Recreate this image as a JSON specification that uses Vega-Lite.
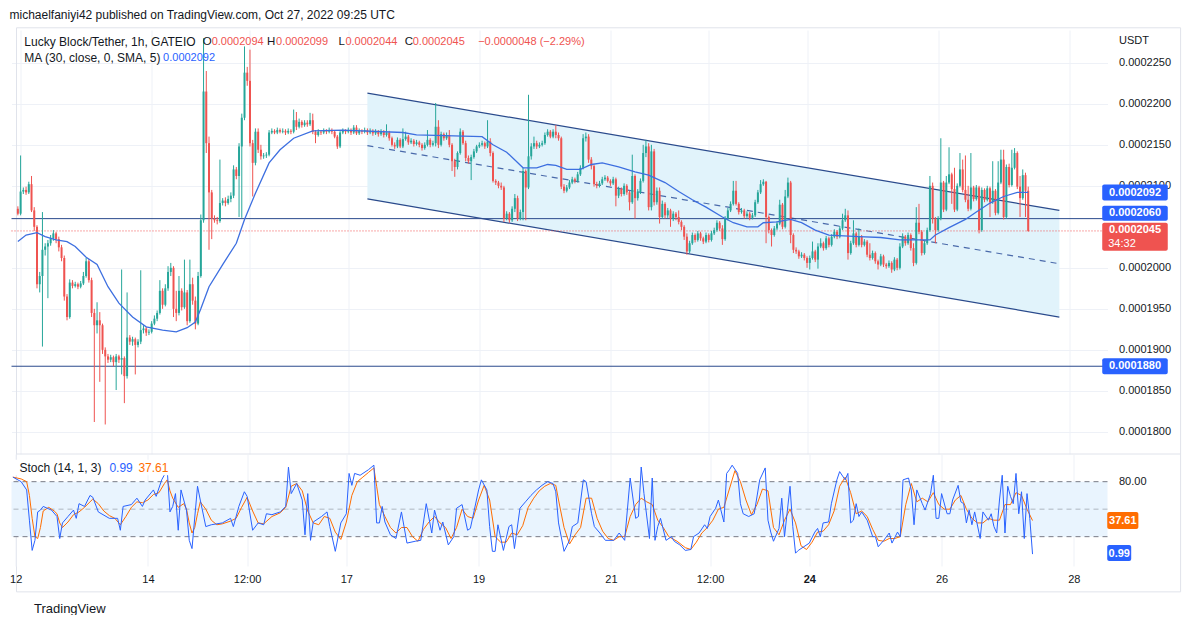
{
"$schema":"https://vega.github.io/schema/vega-lite/v6.json",
"autosize":{"type":"pad"},
"padding":{"left":9.5,"top":9,"right":0,"bottom":0},
"background":"white",
"config":{"font":"Liberation Sans","view":{"stroke":null},
"axis":{"domain":false,"ticks":false,"labelFont":"Liberation Sans","labelFontSize":11,"labelColor":"#131722","gridColor":"#eef1f7","titleFont":"Liberation Sans"},
"text":{"font":"Liberation Sans"}},
"title":{"text":"michaelfaniyi42 published on TradingView.com, Oct 27, 2022 09:25 UTC","anchor":"start","fontSize":12,"fontWeight":"normal","color":"#131722","font":"Liberation Sans","offset":5},
"datasets":{
"candles":[
{"t":-1,"o":2072,"c":2066,"hi":2075,"lo":2064},{"t":0,"o":2066,"c":2093,"hi":2137,"lo":2064},{"t":1,"o":2093,"c":2095,"hi":2098,"lo":2090},{"t":2,"o":2095,"c":2092,"hi":2099,"lo":2089},{"t":3,"o":2092,"c":2102,"hi":2105,"lo":2090},{"t":4,"o":2102,"c":2070,"hi":2112,"lo":2068},{"t":5,"o":2070,"c":2050,"hi":2074,"lo":2045},{"t":6,"o":2050,"c":1980,"hi":2052,"lo":1975},{"t":7,"o":1980,"c":1990,"hi":1995,"lo":1970},{"t":8,"o":1990,"c":2022,"hi":2068,"lo":1904},{"t":9,"o":2022,"c":2026,"hi":2030,"lo":2015},
{"t":10,"o":2026,"c":2030,"hi":2034,"lo":1963},{"t":11,"o":2030,"c":2036,"hi":2040,"lo":2027},{"t":12,"o":2036,"c":2042,"hi":2046,"lo":2033},{"t":13,"o":2042,"c":2035,"hi":2044,"lo":2030},{"t":14,"o":2035,"c":2025,"hi":2038,"lo":2020},{"t":15,"o":2025,"c":2012,"hi":2028,"lo":2008},{"t":16,"o":2012,"c":1965,"hi":2015,"lo":1960},{"t":17,"o":1965,"c":1940,"hi":1968,"lo":1936},{"t":18,"o":1940,"c":1982,"hi":1986,"lo":1938},{"t":19,"o":1982,"c":1978,"hi":1985,"lo":1975},
{"t":20,"o":1978,"c":1980,"hi":1983,"lo":1976},{"t":21,"o":1980,"c":1977,"hi":1982,"lo":1974},{"t":22,"o":1977,"c":1981,"hi":1984,"lo":1975},{"t":23,"o":1981,"c":1990,"hi":1995,"lo":1979},{"t":24,"o":1990,"c":2008,"hi":2012,"lo":1988},{"t":25,"o":2008,"c":1985,"hi":2011,"lo":1982},{"t":26,"o":1985,"c":1945,"hi":1988,"lo":1940},{"t":27,"o":1945,"c":1930,"hi":1950,"lo":1812},{"t":28,"o":1930,"c":1936,"hi":1958,"lo":1920},{"t":29,"o":1936,"c":1930,"hi":1946,"lo":1861},
{"t":30,"o":1930,"c":1900,"hi":1932,"lo":1895},{"t":31,"o":1900,"c":1892,"hi":1903,"lo":1809},{"t":32,"o":1892,"c":1888,"hi":1895,"lo":1884},{"t":33,"o":1888,"c":1891,"hi":1894,"lo":1885},{"t":34,"o":1891,"c":1885,"hi":1893,"lo":1880},{"t":35,"o":1885,"c":1892,"hi":1895,"lo":1851},{"t":36,"o":1892,"c":1888,"hi":1894,"lo":1884},{"t":37,"o":1888,"c":1890,"hi":1998,"lo":1870},{"t":38,"o":1890,"c":1868,"hi":1892,"lo":1835},{"t":39,"o":1868,"c":1915,"hi":1970,"lo":1865},
{"t":40,"o":1915,"c":1910,"hi":1918,"lo":1906},{"t":41,"o":1910,"c":1913,"hi":1916,"lo":1905},{"t":42,"o":1913,"c":1906,"hi":1915,"lo":1870},{"t":43,"o":1906,"c":1910,"hi":1913,"lo":1903},{"t":44,"o":1910,"c":1924,"hi":1997,"lo":1907},{"t":45,"o":1924,"c":1926,"hi":1930,"lo":1920},{"t":46,"o":1926,"c":1921,"hi":1928,"lo":1917},{"t":47,"o":1921,"c":1922,"hi":1925,"lo":1918},{"t":48,"o":1922,"c":1932,"hi":1935,"lo":1920},{"t":49,"o":1932,"c":1938,"hi":1942,"lo":1930},
{"t":50,"o":1938,"c":1945,"hi":1948,"lo":1935},{"t":51,"o":1945,"c":1972,"hi":1985,"lo":1943},{"t":52,"o":1972,"c":1955,"hi":1975,"lo":1950},{"t":53,"o":1955,"c":1975,"hi":1980,"lo":1953},{"t":54,"o":1975,"c":1995,"hi":2002,"lo":1972},{"t":55,"o":1995,"c":2000,"hi":2006,"lo":1990},{"t":56,"o":2000,"c":1950,"hi":2002,"lo":1940},{"t":57,"o":1950,"c":1945,"hi":1972,"lo":1935},{"t":58,"o":1945,"c":1972,"hi":1990,"lo":1942},{"t":59,"o":1972,"c":1952,"hi":1975,"lo":1948},
{"t":60,"o":1952,"c":1970,"hi":2010,"lo":1950},{"t":61,"o":1970,"c":1935,"hi":1973,"lo":1930},{"t":62,"o":1935,"c":1980,"hi":2010,"lo":1933},{"t":63,"o":1980,"c":1960,"hi":1988,"lo":1955},{"t":64,"o":1960,"c":1932,"hi":1965,"lo":1925},{"t":65,"o":1932,"c":1990,"hi":1995,"lo":1930},{"t":66,"o":1990,"c":2058,"hi":2065,"lo":1988},{"t":67,"o":2058,"c":2215,"hi":2280,"lo":2055},{"t":68,"o":2215,"c":2152,"hi":2240,"lo":2140},{"t":69,"o":2152,"c":2092,"hi":2160,"lo":2022},
{"t":70,"o":2092,"c":2060,"hi":2095,"lo":2035},{"t":71,"o":2060,"c":2058,"hi":2064,"lo":2055},{"t":72,"o":2058,"c":2057,"hi":2062,"lo":2053},{"t":73,"o":2057,"c":2079,"hi":2132,"lo":2055},{"t":74,"o":2079,"c":2082,"hi":2085,"lo":2076},{"t":75,"o":2082,"c":2079,"hi":2086,"lo":2075},{"t":76,"o":2079,"c":2084,"hi":2088,"lo":2077},{"t":77,"o":2084,"c":2088,"hi":2092,"lo":2080},{"t":78,"o":2088,"c":2120,"hi":2125,"lo":2085},{"t":79,"o":2120,"c":2112,"hi":2123,"lo":2108},
{"t":80,"o":2112,"c":2148,"hi":2152,"lo":2062},{"t":81,"o":2148,"c":2183,"hi":2188,"lo":2061},{"t":82,"o":2183,"c":2238,"hi":2270,"lo":2180},{"t":83,"o":2238,"c":2228,"hi":2245,"lo":2222},{"t":84,"o":2228,"c":2152,"hi":2266,"lo":2148},{"t":85,"o":2152,"c":2128,"hi":2156,"lo":2087},{"t":86,"o":2128,"c":2166,"hi":2170,"lo":2125},{"t":87,"o":2166,"c":2144,"hi":2170,"lo":2140},{"t":88,"o":2144,"c":2136,"hi":2150,"lo":2132},{"t":89,"o":2136,"c":2137,"hi":2140,"lo":2133},
{"t":90,"o":2137,"c":2138,"hi":2141,"lo":2134},{"t":91,"o":2138,"c":2165,"hi":2168,"lo":2136},{"t":92,"o":2165,"c":2167,"hi":2170,"lo":2163},{"t":93,"o":2167,"c":2165,"hi":2169,"lo":2163},{"t":94,"o":2165,"c":2168,"hi":2171,"lo":2163},{"t":95,"o":2168,"c":2166,"hi":2170,"lo":2164},{"t":96,"o":2166,"c":2167,"hi":2170,"lo":2164},{"t":97,"o":2167,"c":2165,"hi":2169,"lo":2162},{"t":98,"o":2165,"c":2167,"hi":2170,"lo":2163},{"t":99,"o":2167,"c":2166,"hi":2169,"lo":2163},
{"t":100,"o":2166,"c":2180,"hi":2193,"lo":2164},{"t":101,"o":2180,"c":2172,"hi":2190,"lo":2168},{"t":102,"o":2172,"c":2178,"hi":2182,"lo":2170},{"t":103,"o":2178,"c":2174,"hi":2180,"lo":2171},{"t":104,"o":2174,"c":2177,"hi":2180,"lo":2172},{"t":105,"o":2177,"c":2175,"hi":2180,"lo":2172},{"t":106,"o":2175,"c":2180,"hi":2189,"lo":2173},{"t":107,"o":2180,"c":2166,"hi":2188,"lo":2163},{"t":108,"o":2166,"c":2162,"hi":2168,"lo":2152},{"t":109,"o":2162,"c":2166,"hi":2169,"lo":2160},
{"t":110,"o":2166,"c":2165,"hi":2168,"lo":2162},{"t":111,"o":2165,"c":2167,"hi":2170,"lo":2163},{"t":112,"o":2167,"c":2166,"hi":2169,"lo":2163},{"t":113,"o":2166,"c":2168,"hi":2171,"lo":2164},{"t":114,"o":2168,"c":2166,"hi":2170,"lo":2163},{"t":115,"o":2166,"c":2160,"hi":2168,"lo":2158},{"t":116,"o":2160,"c":2148,"hi":2162,"lo":2145},{"t":117,"o":2148,"c":2165,"hi":2168,"lo":2146},{"t":118,"o":2165,"c":2167,"hi":2170,"lo":2163},{"t":119,"o":2167,"c":2166,"hi":2169,"lo":2163},
{"t":120,"o":2166,"c":2168,"hi":2171,"lo":2164},{"t":121,"o":2168,"c":2165,"hi":2170,"lo":2162},{"t":122,"o":2165,"c":2171,"hi":2174,"lo":2163},{"t":123,"o":2171,"c":2164,"hi":2174,"lo":2162},{"t":124,"o":2164,"c":2167,"hi":2170,"lo":2162},{"t":125,"o":2167,"c":2166,"hi":2169,"lo":2163},{"t":126,"o":2166,"c":2168,"hi":2171,"lo":2164},{"t":127,"o":2168,"c":2165,"hi":2170,"lo":2162},{"t":128,"o":2165,"c":2167,"hi":2170,"lo":2163},{"t":129,"o":2167,"c":2164,"hi":2169,"lo":2161},
{"t":130,"o":2164,"c":2166,"hi":2169,"lo":2162},{"t":131,"o":2166,"c":2163,"hi":2168,"lo":2160},{"t":132,"o":2163,"c":2166,"hi":2169,"lo":2161},{"t":133,"o":2166,"c":2162,"hi":2168,"lo":2159},{"t":134,"o":2162,"c":2165,"hi":2175,"lo":2160},{"t":135,"o":2165,"c":2158,"hi":2167,"lo":2155},{"t":136,"o":2158,"c":2150,"hi":2160,"lo":2148},{"t":137,"o":2150,"c":2148,"hi":2153,"lo":2145},{"t":138,"o":2148,"c":2156,"hi":2159,"lo":2146},{"t":139,"o":2156,"c":2148,"hi":2158,"lo":2146},
{"t":140,"o":2148,"c":2157,"hi":2170,"lo":2146},{"t":141,"o":2157,"c":2160,"hi":2166,"lo":2155},{"t":142,"o":2160,"c":2153,"hi":2162,"lo":2150},{"t":143,"o":2153,"c":2155,"hi":2158,"lo":2151},{"t":144,"o":2155,"c":2151,"hi":2157,"lo":2148},{"t":145,"o":2151,"c":2153,"hi":2156,"lo":2149},{"t":146,"o":2153,"c":2150,"hi":2155,"lo":2147},{"t":147,"o":2150,"c":2146,"hi":2152,"lo":2143},{"t":148,"o":2146,"c":2150,"hi":2153,"lo":2144},{"t":149,"o":2150,"c":2156,"hi":2168,"lo":2148},
{"t":150,"o":2156,"c":2150,"hi":2158,"lo":2147},{"t":151,"o":2150,"c":2152,"hi":2155,"lo":2148},{"t":152,"o":2152,"c":2172,"hi":2201,"lo":2148},{"t":153,"o":2172,"c":2150,"hi":2180,"lo":2146},{"t":154,"o":2150,"c":2163,"hi":2166,"lo":2148},{"t":155,"o":2163,"c":2158,"hi":2165,"lo":2155},{"t":156,"o":2158,"c":2162,"hi":2165,"lo":2156},{"t":157,"o":2162,"c":2150,"hi":2168,"lo":2147},{"t":158,"o":2150,"c":2130,"hi":2152,"lo":2118},{"t":159,"o":2130,"c":2123,"hi":2133,"lo":2111},
{"t":160,"o":2123,"c":2140,"hi":2142,"lo":2120},{"t":161,"o":2140,"c":2166,"hi":2170,"lo":2138},{"t":162,"o":2166,"c":2152,"hi":2168,"lo":2150},{"t":163,"o":2152,"c":2134,"hi":2155,"lo":2130},{"t":164,"o":2134,"c":2130,"hi":2137,"lo":2127},{"t":165,"o":2130,"c":2135,"hi":2138,"lo":2107},{"t":166,"o":2135,"c":2142,"hi":2145,"lo":2133},{"t":167,"o":2142,"c":2148,"hi":2150,"lo":2140},{"t":168,"o":2148,"c":2150,"hi":2153,"lo":2146},{"t":169,"o":2150,"c":2152,"hi":2155,"lo":2148},
{"t":170,"o":2152,"c":2148,"hi":2154,"lo":2145},{"t":171,"o":2148,"c":2154,"hi":2180,"lo":2146},{"t":172,"o":2154,"c":2140,"hi":2158,"lo":2136},{"t":173,"o":2140,"c":2106,"hi":2142,"lo":2104},{"t":174,"o":2106,"c":2104,"hi":2108,"lo":2101},{"t":175,"o":2104,"c":2100,"hi":2106,"lo":2097},{"t":176,"o":2100,"c":2098,"hi":2104,"lo":2095},{"t":177,"o":2098,"c":2060,"hi":2100,"lo":2056},{"t":178,"o":2060,"c":2066,"hi":2069,"lo":2058},{"t":179,"o":2066,"c":2058,"hi":2068,"lo":2055},
{"t":180,"o":2058,"c":2072,"hi":2075,"lo":2056},{"t":181,"o":2072,"c":2085,"hi":2090,"lo":2068},{"t":182,"o":2085,"c":2060,"hi":2088,"lo":2057},{"t":183,"o":2060,"c":2068,"hi":2071,"lo":2058},{"t":184,"o":2068,"c":2118,"hi":2122,"lo":2058},{"t":185,"o":2118,"c":2098,"hi":2120,"lo":2058},{"t":186,"o":2098,"c":2136,"hi":2211,"lo":2096},{"t":187,"o":2136,"c":2148,"hi":2152,"lo":2132},{"t":188,"o":2148,"c":2152,"hi":2160,"lo":2145},{"t":189,"o":2152,"c":2148,"hi":2155,"lo":2145},
{"t":190,"o":2148,"c":2150,"hi":2153,"lo":2146},{"t":191,"o":2150,"c":2152,"hi":2155,"lo":2148},{"t":192,"o":2152,"c":2162,"hi":2165,"lo":2150},{"t":193,"o":2162,"c":2166,"hi":2169,"lo":2160},{"t":194,"o":2166,"c":2160,"hi":2168,"lo":2158},{"t":195,"o":2160,"c":2166,"hi":2169,"lo":2158},{"t":196,"o":2166,"c":2162,"hi":2174,"lo":2158},{"t":197,"o":2162,"c":2158,"hi":2165,"lo":2155},{"t":198,"o":2158,"c":2099,"hi":2160,"lo":2096},{"t":199,"o":2099,"c":2094,"hi":2102,"lo":2091},
{"t":200,"o":2094,"c":2098,"hi":2101,"lo":2092},{"t":201,"o":2098,"c":2104,"hi":2107,"lo":2096},{"t":202,"o":2104,"c":2108,"hi":2111,"lo":2102},{"t":203,"o":2108,"c":2106,"hi":2110,"lo":2103},{"t":204,"o":2106,"c":2114,"hi":2117,"lo":2104},{"t":205,"o":2114,"c":2122,"hi":2125,"lo":2112},{"t":206,"o":2122,"c":2158,"hi":2163,"lo":2120},{"t":207,"o":2158,"c":2160,"hi":2165,"lo":2154},{"t":208,"o":2160,"c":2132,"hi":2163,"lo":2128},{"t":209,"o":2132,"c":2124,"hi":2135,"lo":2120},
{"t":210,"o":2124,"c":2102,"hi":2126,"lo":2099},{"t":211,"o":2102,"c":2100,"hi":2105,"lo":2097},{"t":212,"o":2100,"c":2103,"hi":2106,"lo":2098},{"t":213,"o":2103,"c":2108,"hi":2111,"lo":2101},{"t":214,"o":2108,"c":2110,"hi":2113,"lo":2106},{"t":215,"o":2110,"c":2106,"hi":2112,"lo":2104},{"t":216,"o":2106,"c":2103,"hi":2108,"lo":2100},{"t":217,"o":2103,"c":2108,"hi":2111,"lo":2101},{"t":218,"o":2108,"c":2088,"hi":2110,"lo":2075},{"t":219,"o":2088,"c":2096,"hi":2099,"lo":2085},
{"t":220,"o":2096,"c":2090,"hi":2098,"lo":2087},{"t":221,"o":2090,"c":2100,"hi":2103,"lo":2088},{"t":222,"o":2100,"c":2092,"hi":2102,"lo":2089},{"t":223,"o":2092,"c":2080,"hi":2094,"lo":2070},{"t":224,"o":2080,"c":2112,"hi":2138,"lo":2078},{"t":225,"o":2112,"c":2085,"hi":2114,"lo":2060},{"t":226,"o":2085,"c":2093,"hi":2096,"lo":2082},{"t":227,"o":2093,"c":2106,"hi":2109,"lo":2090},{"t":228,"o":2106,"c":2140,"hi":2150,"lo":2104},{"t":229,"o":2140,"c":2148,"hi":2156,"lo":2135},
{"t":230,"o":2148,"c":2074,"hi":2152,"lo":2070},{"t":231,"o":2074,"c":2142,"hi":2150,"lo":2070},{"t":232,"o":2142,"c":2080,"hi":2145,"lo":2076},{"t":233,"o":2080,"c":2094,"hi":2098,"lo":2077},{"t":234,"o":2094,"c":2062,"hi":2098,"lo":2054},{"t":235,"o":2062,"c":2078,"hi":2082,"lo":2060},{"t":236,"o":2078,"c":2064,"hi":2080,"lo":2060},{"t":237,"o":2064,"c":2070,"hi":2073,"lo":2061},{"t":238,"o":2070,"c":2060,"hi":2072,"lo":2050},{"t":239,"o":2060,"c":2066,"hi":2069,"lo":2057},
{"t":240,"o":2066,"c":2062,"hi":2068,"lo":2058},{"t":241,"o":2062,"c":2056,"hi":2070,"lo":2053},{"t":242,"o":2056,"c":2050,"hi":2058,"lo":2046},{"t":243,"o":2050,"c":2038,"hi":2052,"lo":2034},{"t":244,"o":2038,"c":2020,"hi":2042,"lo":2016},{"t":245,"o":2020,"c":2030,"hi":2033,"lo":2018},{"t":246,"o":2030,"c":2040,"hi":2043,"lo":2028},{"t":247,"o":2040,"c":2034,"hi":2042,"lo":2031},{"t":248,"o":2034,"c":2042,"hi":2045,"lo":2032},{"t":249,"o":2042,"c":2036,"hi":2044,"lo":2033},
{"t":250,"o":2036,"c":2032,"hi":2038,"lo":2029},{"t":251,"o":2032,"c":2040,"hi":2043,"lo":2030},{"t":252,"o":2040,"c":2034,"hi":2042,"lo":2031},{"t":253,"o":2034,"c":2042,"hi":2045,"lo":2032},{"t":254,"o":2042,"c":2046,"hi":2049,"lo":2040},{"t":255,"o":2046,"c":2055,"hi":2058,"lo":2044},{"t":256,"o":2055,"c":2048,"hi":2057,"lo":2045},{"t":257,"o":2048,"c":2035,"hi":2052,"lo":2028},{"t":258,"o":2035,"c":2060,"hi":2063,"lo":2033},{"t":259,"o":2060,"c":2070,"hi":2073,"lo":2058},
{"t":260,"o":2070,"c":2078,"hi":2081,"lo":2068},{"t":261,"o":2078,"c":2094,"hi":2106,"lo":2076},{"t":262,"o":2094,"c":2078,"hi":2106,"lo":2076},{"t":263,"o":2078,"c":2068,"hi":2080,"lo":2065},{"t":264,"o":2068,"c":2070,"hi":2073,"lo":2066},{"t":265,"o":2070,"c":2063,"hi":2072,"lo":2060},{"t":266,"o":2063,"c":2066,"hi":2069,"lo":2061},{"t":267,"o":2066,"c":2061,"hi":2068,"lo":2058},{"t":268,"o":2061,"c":2064,"hi":2067,"lo":2059},{"t":269,"o":2064,"c":2080,"hi":2083,"lo":2062},
{"t":270,"o":2080,"c":2092,"hi":2095,"lo":2078},{"t":271,"o":2092,"c":2102,"hi":2107,"lo":2090},{"t":272,"o":2102,"c":2105,"hi":2108,"lo":2100},{"t":273,"o":2105,"c":2062,"hi":2106,"lo":2030},{"t":274,"o":2062,"c":2046,"hi":2064,"lo":2042},{"t":275,"o":2046,"c":2040,"hi":2048,"lo":2026},{"t":276,"o":2040,"c":2048,"hi":2051,"lo":2038},{"t":277,"o":2048,"c":2054,"hi":2057,"lo":2046},{"t":278,"o":2054,"c":2077,"hi":2083,"lo":2052},{"t":279,"o":2077,"c":2050,"hi":2079,"lo":2047},
{"t":280,"o":2050,"c":2087,"hi":2095,"lo":2048},{"t":281,"o":2087,"c":2104,"hi":2110,"lo":2085},{"t":282,"o":2104,"c":2040,"hi":2106,"lo":2030},{"t":283,"o":2040,"c":2022,"hi":2042,"lo":2018},{"t":284,"o":2022,"c":2020,"hi":2025,"lo":2017},{"t":285,"o":2020,"c":2014,"hi":2022,"lo":2011},{"t":286,"o":2014,"c":2016,"hi":2019,"lo":2012},{"t":287,"o":2016,"c":2012,"hi":2018,"lo":2009},{"t":288,"o":2012,"c":2006,"hi":2014,"lo":2000},{"t":289,"o":2006,"c":2012,"hi":2015,"lo":1998},
{"t":290,"o":2012,"c":2020,"hi":2032,"lo":2010},{"t":291,"o":2020,"c":2010,"hi":2022,"lo":2007},{"t":292,"o":2010,"c":2026,"hi":2030,"lo":1999},{"t":293,"o":2026,"c":2030,"hi":2036,"lo":2024},{"t":294,"o":2030,"c":2024,"hi":2032,"lo":2021},{"t":295,"o":2024,"c":2036,"hi":2039,"lo":2022},{"t":296,"o":2036,"c":2028,"hi":2038,"lo":2025},{"t":297,"o":2028,"c":2038,"hi":2041,"lo":2026},{"t":298,"o":2038,"c":2044,"hi":2047,"lo":2036},{"t":299,"o":2044,"c":2038,"hi":2046,"lo":2035},
{"t":300,"o":2038,"c":2048,"hi":2051,"lo":2036},{"t":301,"o":2048,"c":2058,"hi":2066,"lo":2046},{"t":302,"o":2058,"c":2064,"hi":2072,"lo":2056},{"t":303,"o":2064,"c":2018,"hi":2070,"lo":2010},{"t":304,"o":2018,"c":2030,"hi":2033,"lo":2016},{"t":305,"o":2030,"c":2042,"hi":2058,"lo":2028},{"t":306,"o":2042,"c":2028,"hi":2044,"lo":2025},{"t":307,"o":2028,"c":2038,"hi":2048,"lo":2026},{"t":308,"o":2038,"c":2028,"hi":2040,"lo":2025},{"t":309,"o":2028,"c":2032,"hi":2035,"lo":2026},
{"t":310,"o":2032,"c":2016,"hi":2034,"lo":2013},{"t":311,"o":2016,"c":2012,"hi":2030,"lo":2009},{"t":312,"o":2012,"c":2018,"hi":2021,"lo":2010},{"t":313,"o":2018,"c":2008,"hi":2020,"lo":2005},{"t":314,"o":2008,"c":2004,"hi":2010,"lo":1998},{"t":315,"o":2004,"c":2014,"hi":2017,"lo":2002},{"t":316,"o":2014,"c":2004,"hi":2016,"lo":2001},{"t":317,"o":2004,"c":2002,"hi":2006,"lo":1999},{"t":318,"o":2002,"c":2006,"hi":2009,"lo":2000},{"t":319,"o":2006,"c":1998,"hi":2008,"lo":1994},
{"t":320,"o":1998,"c":2010,"hi":2013,"lo":1996},{"t":321,"o":2010,"c":2000,"hi":2012,"lo":1997},{"t":322,"o":2000,"c":2026,"hi":2030,"lo":1998},{"t":323,"o":2026,"c":2038,"hi":2042,"lo":2024},{"t":324,"o":2038,"c":2030,"hi":2040,"lo":2027},{"t":325,"o":2030,"c":2040,"hi":2043,"lo":2028},{"t":326,"o":2040,"c":2024,"hi":2042,"lo":2021},{"t":327,"o":2024,"c":2006,"hi":2030,"lo":2002},{"t":328,"o":2006,"c":2055,"hi":2074,"lo":2004},{"t":329,"o":2055,"c":2044,"hi":2078,"lo":2041},
{"t":330,"o":2044,"c":2018,"hi":2046,"lo":2015},{"t":331,"o":2018,"c":2030,"hi":2033,"lo":2016},{"t":332,"o":2030,"c":2046,"hi":2049,"lo":2028},{"t":333,"o":2046,"c":2100,"hi":2112,"lo":2044},{"t":334,"o":2100,"c":2060,"hi":2104,"lo":2054},{"t":335,"o":2060,"c":2046,"hi":2062,"lo":2030},{"t":336,"o":2046,"c":2060,"hi":2063,"lo":2044},{"t":337,"o":2060,"c":2104,"hi":2158,"lo":2058},{"t":338,"o":2104,"c":2071,"hi":2106,"lo":2068},{"t":339,"o":2071,"c":2104,"hi":2112,"lo":2069},
{"t":340,"o":2104,"c":2114,"hi":2147,"lo":2102},{"t":341,"o":2114,"c":2096,"hi":2116,"lo":2078},{"t":342,"o":2096,"c":2071,"hi":2122,"lo":2068},{"t":343,"o":2071,"c":2100,"hi":2103,"lo":2069},{"t":344,"o":2100,"c":2120,"hi":2140,"lo":2098},{"t":345,"o":2120,"c":2095,"hi":2132,"lo":2092},{"t":346,"o":2095,"c":2083,"hi":2137,"lo":2080},{"t":347,"o":2083,"c":2072,"hi":2100,"lo":2069},{"t":348,"o":2072,"c":2098,"hi":2140,"lo":2070},{"t":349,"o":2098,"c":2084,"hi":2100,"lo":2081},
{"t":350,"o":2084,"c":2098,"hi":2101,"lo":2082},{"t":351,"o":2098,"c":2046,"hi":2100,"lo":2042},{"t":352,"o":2046,"c":2095,"hi":2098,"lo":2044},{"t":353,"o":2095,"c":2083,"hi":2097,"lo":2080},{"t":354,"o":2083,"c":2097,"hi":2100,"lo":2081},{"t":355,"o":2097,"c":2080,"hi":2099,"lo":2062},{"t":356,"o":2080,"c":2094,"hi":2130,"lo":2078},{"t":357,"o":2094,"c":2067,"hi":2096,"lo":2064},{"t":358,"o":2067,"c":2104,"hi":2130,"lo":2065},{"t":359,"o":2104,"c":2132,"hi":2144,"lo":2102},
{"t":360,"o":2132,"c":2062,"hi":2144,"lo":2059},{"t":361,"o":2062,"c":2123,"hi":2126,"lo":2060},{"t":362,"o":2123,"c":2101,"hi":2127,"lo":2098},{"t":363,"o":2101,"c":2122,"hi":2144,"lo":2099},{"t":364,"o":2122,"c":2140,"hi":2146,"lo":2120},{"t":365,"o":2140,"c":2099,"hi":2142,"lo":2096},{"t":366,"o":2099,"c":2085,"hi":2112,"lo":2062},{"t":367,"o":2085,"c":2113,"hi":2120,"lo":2083},{"t":368,"o":2113,"c":2094,"hi":2116,"lo":2062},{"t":369,"o":2094,"c":2045,"hi":2099,"lo":2044}
],
"ma":[
{"t":-1,"v":2032},{"t":2,"v":2040},{"t":6,"v":2043},{"t":9,"v":2038},{"t":13,"v":2034},{"t":17,"v":2032},{"t":20,"v":2026},{"t":24,"v":2013},{"t":28,"v":2004},{"t":32,"v":1977},{"t":36,"v":1957},{"t":41,"v":1940},{"t":46,"v":1928},{"t":52,"v":1924},{"t":57,"v":1922},{"t":61,"v":1927},{"t":64,"v":1934},{"t":66,"v":1950},{"t":69,"v":1977},{"t":74,"v":2004},{"t":79,"v":2030},{"t":82,"v":2059},{"t":86,"v":2091},{"t":91,"v":2128},{"t":95,"v":2144},{"t":100,"v":2158},{"t":107,"v":2167},{"t":118,"v":2168},{"t":140,"v":2165},{"t":145,"v":2162},{"t":169,"v":2160},{"t":173,"v":2150},{"t":178,"v":2141},{"t":184,"v":2122},{"t":189,"v":2122},{"t":193,"v":2126},{"t":196,"v":2125},{"t":200,"v":2120},{"t":205,"v":2120},{"t":209,"v":2126},{"t":213,"v":2128},{"t":219,"v":2123},{"t":225,"v":2117},{"t":230,"v":2113},{"t":236,"v":2104},{"t":241,"v":2093},{"t":246,"v":2083},{"t":251,"v":2074},{"t":257,"v":2062},{"t":261,"v":2055},{"t":266,"v":2050},{"t":270,"v":2050},{"t":272,"v":2055},{"t":277,"v":2056},{"t":282,"v":2059},{"t":286,"v":2055},{"t":291,"v":2046},{"t":296,"v":2040},{"t":307,"v":2038},{"t":315,"v":2037},{"t":322,"v":2034},{"t":333,"v":2034},{"t":335,"v":2040},{"t":340,"v":2049},{"t":346,"v":2059},{"t":350,"v":2068},{"t":355,"v":2079},{"t":360,"v":2087},{"t":365,"v":2092},{"t":369,"v":2092}
],
"chan":[{"t":127,"up":2213,"lo":2084,"mid":2149},{"t":380.4,"up":2070,"lo":1940,"mid":2005}],
"k":[
{"t":-1,"v":85},{"t":2,"v":80},{"t":4,"v":71},{"t":5,"v":38},{"t":6,"v":5},{"t":7,"v":16},{"t":8,"v":47},{"t":9,"v":49},{"t":10,"v":53},{"t":13,"v":49},{"t":15,"v":42},{"t":16,"v":18},{"t":17,"v":35},{"t":19,"v":42},{"t":21,"v":49},{"t":22,"v":40},{"t":23,"v":56},{"t":25,"v":53},{"t":27,"v":65},{"t":28,"v":63},{"t":30,"v":47},{"t":34,"v":40},{"t":37,"v":40},{"t":38,"v":27},{"t":39,"v":53},{"t":42,"v":55},{"t":44,"v":62},{"t":46,"v":53},{"t":47,"v":60},{"t":50,"v":71},{"t":51,"v":64},{"t":53,"v":82},{"t":55,"v":93},{"t":56,"v":47},{"t":57,"v":53},{"t":58,"v":67},{"t":59,"v":27},{"t":60,"v":71},{"t":62,"v":49},{"t":63,"v":16},{"t":64,"v":7},{"t":66,"v":75},{"t":67,"v":60},{"t":69,"v":31},{"t":71,"v":33},{"t":75,"v":35},{"t":78,"v":40},{"t":79,"v":31},{"t":81,"v":53},{"t":83,"v":69},{"t":84,"v":64},{"t":86,"v":27},{"t":88,"v":35},{"t":90,"v":33},{"t":91,"v":45},{"t":93,"v":44},{"t":96,"v":47},{"t":98,"v":53},{"t":99,"v":96},{"t":100,"v":67},{"t":102,"v":78},{"t":104,"v":60},{"t":105,"v":22},{"t":106,"v":67},{"t":107,"v":16},{"t":108,"v":36},{"t":111,"v":42},{"t":113,"v":47},{"t":114,"v":31},{"t":116,"v":4},{"t":118,"v":35},{"t":120,"v":45},{"t":121,"v":89},{"t":122,"v":76},{"t":123,"v":89},{"t":125,"v":87},{"t":128,"v":93},{"t":130,"v":98},{"t":131,"v":35},{"t":132,"v":35},{"t":133,"v":53},{"t":134,"v":36},{"t":136,"v":22},{"t":138,"v":18},{"t":140,"v":47},{"t":142,"v":13},{"t":145,"v":15},{"t":147,"v":16},{"t":149,"v":56},{"t":151,"v":24},{"t":152,"v":49},{"t":154,"v":27},{"t":155,"v":36},{"t":157,"v":11},{"t":159,"v":20},{"t":160,"v":51},{"t":162,"v":55},{"t":164,"v":27},{"t":165,"v":29},{"t":168,"v":71},{"t":169,"v":82},{"t":171,"v":71},{"t":172,"v":31},{"t":173,"v":4},{"t":174,"v":4},{"t":175,"v":33},{"t":177,"v":5},{"t":179,"v":31},{"t":180,"v":33},{"t":181,"v":7},{"t":183,"v":51},{"t":185,"v":58},{"t":187,"v":65},{"t":189,"v":71},{"t":191,"v":76},{"t":193,"v":80},{"t":195,"v":78},{"t":196,"v":69},{"t":197,"v":35},{"t":199,"v":4},{"t":201,"v":16},{"t":202,"v":31},{"t":204,"v":35},{"t":206,"v":82},{"t":207,"v":80},{"t":209,"v":45},{"t":210,"v":31},{"t":212,"v":24},{"t":214,"v":16},{"t":217,"v":16},{"t":219,"v":24},{"t":221,"v":16},{"t":223,"v":84},{"t":225,"v":40},{"t":226,"v":42},{"t":227,"v":96},{"t":228,"v":67},{"t":230,"v":18},{"t":231,"v":84},{"t":232,"v":16},{"t":233,"v":31},{"t":234,"v":40},{"t":236,"v":16},{"t":238,"v":20},{"t":239,"v":15},{"t":241,"v":11},{"t":243,"v":5},{"t":245,"v":6},{"t":246,"v":20},{"t":248,"v":24},{"t":250,"v":33},{"t":251,"v":29},{"t":252,"v":42},{"t":254,"v":51},{"t":255,"v":60},{"t":257,"v":36},{"t":258,"v":89},{"t":259,"v":93},{"t":260,"v":98},{"t":262,"v":89},{"t":263,"v":56},{"t":264,"v":45},{"t":266,"v":42},{"t":268,"v":45},{"t":270,"v":82},{"t":272,"v":95},{"t":273,"v":38},{"t":274,"v":25},{"t":275,"v":15},{"t":277,"v":29},{"t":278,"v":62},{"t":279,"v":20},{"t":281,"v":75},{"t":282,"v":31},{"t":283,"v":2},{"t":284,"v":5},{"t":286,"v":9},{"t":288,"v":13},{"t":290,"v":25},{"t":291,"v":29},{"t":292,"v":20},{"t":293,"v":35},{"t":295,"v":36},{"t":296,"v":56},{"t":298,"v":82},{"t":299,"v":91},{"t":301,"v":82},{"t":302,"v":89},{"t":303,"v":35},{"t":304,"v":38},{"t":305,"v":56},{"t":306,"v":42},{"t":307,"v":47},{"t":309,"v":38},{"t":311,"v":20},{"t":312,"v":20},{"t":313,"v":9},{"t":315,"v":16},{"t":317,"v":24},{"t":318,"v":13},{"t":320,"v":25},{"t":321,"v":20},{"t":322,"v":82},{"t":324,"v":84},{"t":325,"v":71},{"t":326,"v":33},{"t":327,"v":71},{"t":329,"v":56},{"t":330,"v":49},{"t":332,"v":67},{"t":333,"v":87},{"t":334,"v":40},{"t":335,"v":40},{"t":336,"v":67},{"t":338,"v":45},{"t":339,"v":45},{"t":340,"v":60},{"t":342,"v":76},{"t":343,"v":58},{"t":344,"v":56},{"t":345,"v":35},{"t":346,"v":49},{"t":347,"v":33},{"t":348,"v":47},{"t":350,"v":18},{"t":351,"v":47},{"t":353,"v":38},{"t":354,"v":45},{"t":355,"v":31},{"t":356,"v":24},{"t":357,"v":60},{"t":358,"v":87},{"t":359,"v":24},{"t":360,"v":75},{"t":361,"v":64},{"t":362,"v":56},{"t":363,"v":89},{"t":364,"v":45},{"t":365,"v":69},{"t":366,"v":18},{"t":367,"v":67},{"t":368,"v":40},{"t":369,"v":0.99}
],
"d":[
{"t":-1,"v":85},{"t":2,"v":83},{"t":4,"v":80},{"t":5,"v":65},{"t":6,"v":40},{"t":7,"v":20},{"t":8,"v":18},{"t":9,"v":30},{"t":10,"v":48},{"t":12,"v":52},{"t":14,"v":48},{"t":15,"v":45},{"t":16,"v":35},{"t":17,"v":30},{"t":19,"v":36},{"t":21,"v":44},{"t":23,"v":47},{"t":25,"v":52},{"t":27,"v":58},{"t":28,"v":61},{"t":30,"v":56},{"t":32,"v":48},{"t":34,"v":43},{"t":36,"v":40},{"t":38,"v":33},{"t":40,"v":42},{"t":42,"v":52},{"t":44,"v":58},{"t":46,"v":57},{"t":48,"v":60},{"t":50,"v":66},{"t":52,"v":68},{"t":54,"v":78},{"t":55,"v":82},{"t":56,"v":70},{"t":57,"v":62},{"t":59,"v":52},{"t":61,"v":56},{"t":62,"v":50},{"t":63,"v":35},{"t":64,"v":24},{"t":65,"v":30},{"t":66,"v":45},{"t":67,"v":58},{"t":69,"v":50},{"t":71,"v":38},{"t":73,"v":33},{"t":75,"v":34},{"t":78,"v":37},{"t":80,"v":40},{"t":82,"v":52},{"t":84,"v":63},{"t":86,"v":48},{"t":88,"v":35},{"t":90,"v":34},{"t":93,"v":42},{"t":96,"v":46},{"t":98,"v":52},{"t":100,"v":75},{"t":102,"v":78},{"t":104,"v":70},{"t":106,"v":48},{"t":108,"v":35},{"t":110,"v":33},{"t":112,"v":42},{"t":114,"v":40},{"t":116,"v":25},{"t":118,"v":17},{"t":120,"v":36},{"t":122,"v":65},{"t":124,"v":80},{"t":126,"v":85},{"t":128,"v":90},{"t":130,"v":95},{"t":131,"v":75},{"t":132,"v":55},{"t":134,"v":42},{"t":136,"v":30},{"t":138,"v":24},{"t":140,"v":30},{"t":142,"v":30},{"t":144,"v":20},{"t":146,"v":15},{"t":148,"v":28},{"t":150,"v":36},{"t":152,"v":42},{"t":154,"v":35},{"t":156,"v":30},{"t":158,"v":18},{"t":160,"v":30},{"t":162,"v":50},{"t":164,"v":42},{"t":166,"v":40},{"t":168,"v":60},{"t":170,"v":76},{"t":172,"v":60},{"t":174,"v":20},{"t":176,"v":14},{"t":178,"v":14},{"t":180,"v":24},{"t":182,"v":22},{"t":184,"v":32},{"t":186,"v":52},{"t":188,"v":62},{"t":190,"v":70},{"t":192,"v":75},{"t":194,"v":78},{"t":196,"v":76},{"t":197,"v":60},{"t":199,"v":30},{"t":201,"v":12},{"t":203,"v":22},{"t":205,"v":30},{"t":207,"v":62},{"t":209,"v":62},{"t":211,"v":40},{"t":213,"v":26},{"t":215,"v":18},{"t":217,"v":16},{"t":219,"v":20},{"t":221,"v":20},{"t":223,"v":42},{"t":225,"v":55},{"t":227,"v":62},{"t":229,"v":58},{"t":231,"v":55},{"t":233,"v":38},{"t":235,"v":30},{"t":237,"v":20},{"t":240,"v":15},{"t":243,"v":8},{"t":245,"v":6},{"t":247,"v":14},{"t":249,"v":24},{"t":251,"v":30},{"t":253,"v":38},{"t":255,"v":50},{"t":257,"v":52},{"t":259,"v":72},{"t":261,"v":92},{"t":263,"v":80},{"t":265,"v":60},{"t":267,"v":44},{"t":269,"v":55},{"t":271,"v":72},{"t":273,"v":70},{"t":275,"v":30},{"t":277,"v":22},{"t":279,"v":38},{"t":281,"v":50},{"t":283,"v":35},{"t":285,"v":10},{"t":287,"v":6},{"t":289,"v":14},{"t":291,"v":25},{"t":293,"v":26},{"t":295,"v":33},{"t":297,"v":48},{"t":299,"v":75},{"t":301,"v":85},{"t":303,"v":68},{"t":305,"v":45},{"t":307,"v":48},{"t":309,"v":42},{"t":311,"v":28},{"t":313,"v":16},{"t":315,"v":15},{"t":317,"v":18},{"t":319,"v":18},{"t":321,"v":20},{"t":323,"v":55},{"t":325,"v":78},{"t":327,"v":58},{"t":329,"v":62},{"t":331,"v":58},{"t":333,"v":68},{"t":335,"v":55},{"t":337,"v":50},{"t":339,"v":50},{"t":341,"v":60},{"t":343,"v":65},{"t":345,"v":50},{"t":347,"v":40},{"t":349,"v":35},{"t":351,"v":35},{"t":353,"v":40},{"t":355,"v":38},{"t":357,"v":38},{"t":359,"v":55},{"t":361,"v":55},{"t":363,"v":68},{"t":365,"v":65},{"t":367,"v":50},{"t":369,"v":37.61}
]},
"spacing":0,
"bounds":"flush",
"vconcat":[
{"width":1096,"height":424,
"layer":[
{"data":{"values":[{}]},"mark":{"type":"rect","fillOpacity":0,"stroke":"#e0e3eb","strokeWidth":1},
"encoding":{"x":{"datum":-1.5,"type":"quantitative","scale":{"domain":[-1.5,396.2],"nice":false,"zero":false},"axis":{"grid":true,"labels":false,"values":[0,48,84,120,168,216,252,288,336,384],"title":null}},"x2":{"datum":424.8},
"y":{"datum":2292.7,"type":"quantitative","scale":{"domain":[1773,2290],"nice":false,"zero":false},"axis":{"orient":"right","grid":true,"values":[1800,1850,1900,1950,2000,2100,2150,2200,2250],"labelExpr":"'0.000' + datum.value","labelPadding":11,"title":"USDT","titleAngle":0,"titleX":11,"titleY":10,"titleAlign":"left","titleBaseline":"middle","titleFontWeight":"normal","titleFontSize":11,"titleColor":"#131722"}},"y2":{"datum":1604.9}}},
{"data":{"values":[{}]},"mark":{"type":"rule","stroke":"#e0e3eb","strokeWidth":1},"encoding":{"x":{"datum":-1.5,"type":"quantitative"},"x2":{"datum":424.8},"y":{"datum":1773,"type":"quantitative"}}},
{"data":{"name":"chan"},"mark":{"type":"area","color":"#e1f3fb","opacity":1},"encoding":{"x":{"field":"t","type":"quantitative"},"y":{"field":"up","type":"quantitative"},"y2":{"field":"lo"}}},
{"data":{"name":"chan"},"mark":{"type":"line","color":"#2a4a8c","strokeWidth":1.2},"encoding":{"x":{"field":"t","type":"quantitative"},"y":{"field":"up","type":"quantitative"}}},
{"data":{"name":"chan"},"mark":{"type":"line","color":"#2a4a8c","strokeWidth":1.2},"encoding":{"x":{"field":"t","type":"quantitative"},"y":{"field":"lo","type":"quantitative"}}},
{"data":{"name":"chan"},"mark":{"type":"line","color":"#4a6aaa","strokeWidth":1.2,"strokeDash":[6,5]},"encoding":{"x":{"field":"t","type":"quantitative"},"y":{"field":"mid","type":"quantitative"}}},
{"data":{"values":[{}]},"mark":{"type":"rule","color":"#2a4a8c","strokeWidth":1},"encoding":{"y":{"datum":2060,"type":"quantitative"}}},
{"data":{"values":[{}]},"mark":{"type":"rule","color":"#2a4a8c","strokeWidth":1},"encoding":{"y":{"datum":1880,"type":"quantitative"}}},
{"data":{"values":[{}]},"mark":{"type":"rule","color":"#ef5350","strokeWidth":1,"strokeDash":[1,2]},"encoding":{"y":{"datum":2045,"type":"quantitative"}}},
{"data":{"name":"candles"},"mark":{"type":"rule","strokeWidth":1},"encoding":{"x":{"field":"t","type":"quantitative"},"y":{"field":"lo","type":"quantitative"},"y2":{"field":"hi"},"color":{"condition":{"test":"datum.c >= datum.o","value":"#26a69a"},"value":"#ef5350"}}},
{"data":{"name":"candles"},"mark":{"type":"bar","width":2},"encoding":{"x":{"field":"t","type":"quantitative"},"y":{"field":"o","type":"quantitative"},"y2":{"field":"c"},"color":{"condition":{"test":"datum.c >= datum.o","value":"#26a69a"},"value":"#ef5350"}}},
{"data":{"name":"ma"},"mark":{"type":"line","color":"#3d6fe0","strokeWidth":1.3},"encoding":{"x":{"field":"t","type":"quantitative"},"y":{"field":"v","type":"quantitative"}}},
{"data":{"values":[{}]},"mark":{"type":"text","text":"Lucky Block/Tether, 1h, GATEIO","align":"left","baseline":"middle","fontSize":12,"color":"#131722"},"encoding":{"x":{"datum":1.38,"type":"quantitative"},"y":{"datum":2275.6,"type":"quantitative"}}},
{"data":{"values":[{}]},"mark":{"type":"text","text":"O","align":"left","baseline":"middle","fontSize":11.5,"color":"#131722"},"encoding":{"x":{"datum":66.69,"type":"quantitative"},"y":{"datum":2275.6,"type":"quantitative"}}},
{"data":{"values":[{}]},"mark":{"type":"text","text":"0.0002094","align":"left","baseline":"middle","fontSize":11,"color":"#ef5350"},"encoding":{"x":{"datum":69.96,"type":"quantitative"},"y":{"datum":2275.6,"type":"quantitative"}}},
{"data":{"values":[{}]},"mark":{"type":"text","text":"H","align":"left","baseline":"middle","fontSize":11.5,"color":"#131722"},"encoding":{"x":{"datum":90.27,"type":"quantitative"},"y":{"datum":2275.6,"type":"quantitative"}}},
{"data":{"values":[{}]},"mark":{"type":"text","text":"0.0002099","align":"left","baseline":"middle","fontSize":11,"color":"#ef5350"},"encoding":{"x":{"datum":93.54,"type":"quantitative"},"y":{"datum":2275.6,"type":"quantitative"}}},
{"data":{"values":[{}]},"mark":{"type":"text","text":"L","align":"left","baseline":"middle","fontSize":11.5,"color":"#131722"},"encoding":{"x":{"datum":116.4,"type":"quantitative"},"y":{"datum":2275.6,"type":"quantitative"}}},
{"data":{"values":[{}]},"mark":{"type":"text","text":"0.0002044","align":"left","baseline":"middle","fontSize":11,"color":"#ef5350"},"encoding":{"x":{"datum":118.94,"type":"quantitative"},"y":{"datum":2275.6,"type":"quantitative"}}},
{"data":{"values":[{}]},"mark":{"type":"text","text":"C","align":"left","baseline":"middle","fontSize":11.5,"color":"#131722"},"encoding":{"x":{"datum":140.71,"type":"quantitative"},"y":{"datum":2275.6,"type":"quantitative"}}},
{"data":{"values":[{}]},"mark":{"type":"text","text":"0.0002045","align":"left","baseline":"middle","fontSize":11,"color":"#ef5350"},"encoding":{"x":{"datum":143.61,"type":"quantitative"},"y":{"datum":2275.6,"type":"quantitative"}}},
{"data":{"values":[{}]},"mark":{"type":"text","text":"−0.0000048 (−2.29%)","align":"left","baseline":"middle","fontSize":11,"color":"#ef5350"},"encoding":{"x":{"datum":167.56,"type":"quantitative"},"y":{"datum":2275.6,"type":"quantitative"}}},
{"data":{"values":[{}]},"mark":{"type":"text","text":"MA (30, close, 0, SMA, 5)","align":"left","baseline":"middle","fontSize":12,"color":"#131722"},"encoding":{"x":{"datum":1.38,"type":"quantitative"},"y":{"datum":2256.1,"type":"quantitative"}}},
{"data":{"values":[{}]},"mark":{"type":"text","text":"0.0002092","align":"left","baseline":"middle","fontSize":11,"color":"#2962ff"},"encoding":{"x":{"datum":52.18,"type":"quantitative"},"y":{"datum":2256.1,"type":"quantitative"}}},
{"data":{"values":[{}]},"mark":{"type":"rect","color":"#2962ff","cornerRadius":2},"encoding":{"x":{"datum":396.1,"type":"quantitative"},"x2":{"datum":420.1},"y":{"datum":2101.5,"type":"quantitative"},"y2":{"datum":2082}}},
{"data":{"values":[{}]},"mark":{"type":"text","text":"0.0002092","align":"center","baseline":"middle","fontSize":11,"fontWeight":"bold","color":"white"},"encoding":{"x":{"datum":408.1,"type":"quantitative"},"y":{"datum":2091.5,"type":"quantitative"}}},
{"data":{"values":[{}]},"mark":{"type":"rect","color":"#2962ff","cornerRadius":2},"encoding":{"x":{"datum":396.1,"type":"quantitative"},"x2":{"datum":420.1},"y":{"datum":2075.6,"type":"quantitative"},"y2":{"datum":2057.3}}},
{"data":{"values":[{}]},"mark":{"type":"text","text":"0.0002060","align":"center","baseline":"middle","fontSize":11,"fontWeight":"bold","color":"white"},"encoding":{"x":{"datum":408.1,"type":"quantitative"},"y":{"datum":2066.5,"type":"quantitative"}}},
{"data":{"values":[{}]},"mark":{"type":"rect","color":"#ef5350","cornerRadius":2},"encoding":{"x":{"datum":396.1,"type":"quantitative"},"x2":{"datum":420.1},"y":{"datum":2054.9,"type":"quantitative"},"y2":{"datum":2020.7}}},
{"data":{"values":[{}]},"mark":{"type":"text","text":"0.0002045","align":"center","baseline":"middle","fontSize":11,"fontWeight":"bold","color":"white"},"encoding":{"x":{"datum":408.1,"type":"quantitative"},"y":{"datum":2045.7,"type":"quantitative"}}},
{"data":{"values":[{}]},"mark":{"type":"text","text":"34:32","align":"left","baseline":"middle","fontSize":11,"color":"white"},"encoding":{"x":{"datum":398.3,"type":"quantitative"},"y":{"datum":2029,"type":"quantitative"}}},
{"data":{"values":[{}]},"mark":{"type":"rect","color":"#2962ff","cornerRadius":2},"encoding":{"x":{"datum":396.1,"type":"quantitative"},"x2":{"datum":420.1},"y":{"datum":1889.8,"type":"quantitative"},"y2":{"datum":1870.2}}},
{"data":{"values":[{}]},"mark":{"type":"text","text":"0.0001880","align":"center","baseline":"middle","fontSize":11,"fontWeight":"bold","color":"white"},"encoding":{"x":{"datum":408.1,"type":"quantitative"},"y":{"datum":1880,"type":"quantitative"}}}
]},
{"width":1096,"height":112,
"layer":[
{"data":{"values":[{}]},"mark":{"type":"rect","color":"#e9f4fe"},
"encoding":{"x":{"datum":-1.5,"type":"quantitative","scale":{"domain":[-1.5,396.2],"nice":false,"zero":false},"axis":{"grid":true,"values":[0,48,84,120,168,216,252,288,336,384],"labelExpr":"datum.value==0?'12':datum.value==48?'14':datum.value==84?'12:00':datum.value==120?'17':datum.value==168?'19':datum.value==216?'21':datum.value==252?'12:00':datum.value==288?'24':datum.value==336?'26':'28'","labelFontWeight":{"condition":{"test":"datum.value == 288","value":"bold"},"value":"normal"},"labelPadding":7,"labelBaseline":"top","title":"TradingView","titleX":22,"titleY":42,"titleAlign":"left","titleBaseline":"middle","titleAngle":0,"titleFontSize":13,"titleFontWeight":"normal","titleColor":"#131722"}},"x2":{"datum":396.2},
"y":{"datum":20,"type":"quantitative","scale":{"domain":[-12,110.2],"nice":false,"zero":false},"axis":{"orient":"right","grid":false,"values":[80],"format":".2f","labelPadding":11,"title":null}},"y2":{"datum":80}}},
{"data":{"values":[{}]},"mark":{"type":"rule","color":"#787b86","strokeWidth":1,"strokeDash":[5,4]},"encoding":{"y":{"datum":80,"type":"quantitative"}}},
{"data":{"values":[{}]},"mark":{"type":"rule","color":"#787b86","opacity":0.5,"strokeWidth":1,"strokeDash":[5,4]},"encoding":{"y":{"datum":50,"type":"quantitative"}}},
{"data":{"values":[{}]},"mark":{"type":"rule","color":"#787b86","strokeWidth":1,"strokeDash":[5,4]},"encoding":{"y":{"datum":20,"type":"quantitative"}}},
{"data":{"name":"d"},"mark":{"type":"line","color":"#ff6d00","strokeWidth":1},"encoding":{"x":{"field":"t","type":"quantitative"},"y":{"field":"v","type":"quantitative"}}},
{"data":{"name":"k"},"mark":{"type":"line","color":"#2962ff","strokeWidth":1},"encoding":{"x":{"field":"t","type":"quantitative"},"y":{"field":"v","type":"quantitative"}}},
{"data":{"values":[{}]},"mark":{"type":"rect","color":"white"},"encoding":{"x":{"datum":-0.8,"type":"quantitative"},"x2":{"datum":55.8},"y":{"datum":104,"type":"quantitative"},"y2":{"datum":87}}},
{"data":{"values":[{}]},"mark":{"type":"text","text":"Stoch (14, 1, 3)","align":"left","baseline":"middle","fontSize":12,"color":"#131722"},"encoding":{"x":{"datum":1.38,"type":"quantitative"},"y":{"datum":94.9,"type":"quantitative"}}},
{"data":{"values":[{}]},"mark":{"type":"text","text":"0.99","align":"left","baseline":"middle","fontSize":12,"color":"#2962ff"},"encoding":{"x":{"datum":34.03,"type":"quantitative"},"y":{"datum":94.9,"type":"quantitative"}}},
{"data":{"values":[{}]},"mark":{"type":"text","text":"37.61","align":"left","baseline":"middle","fontSize":12,"color":"#ff6d00"},"encoding":{"x":{"datum":44.56,"type":"quantitative"},"y":{"datum":94.9,"type":"quantitative"}}},
{"data":{"values":[{}]},"mark":{"type":"rect","color":"#ff6d00","cornerRadius":2},"encoding":{"x":{"datum":396.1,"type":"quantitative"},"x2":{"datum":407.4},"y":{"datum":46.9,"type":"quantitative"},"y2":{"datum":28.4}}},
{"data":{"values":[{}]},"mark":{"type":"text","text":"37.61","align":"center","baseline":"middle","fontSize":11,"fontWeight":"bold","color":"white"},"encoding":{"x":{"datum":401.75,"type":"quantitative"},"y":{"datum":37.61,"type":"quantitative"}}},
{"data":{"values":[{}]},"mark":{"type":"rect","color":"#2962ff","cornerRadius":2},"encoding":{"x":{"datum":396.1,"type":"quantitative"},"x2":{"datum":404.8},"y":{"datum":10.9,"type":"quantitative"},"y2":{"datum":-6.5}}},
{"data":{"values":[{}]},"mark":{"type":"text","text":"0.99","align":"center","baseline":"middle","fontSize":11,"fontWeight":"bold","color":"white"},"encoding":{"x":{"datum":400.45,"type":"quantitative"},"y":{"datum":0.99,"type":"quantitative"}}}
]}
]}
